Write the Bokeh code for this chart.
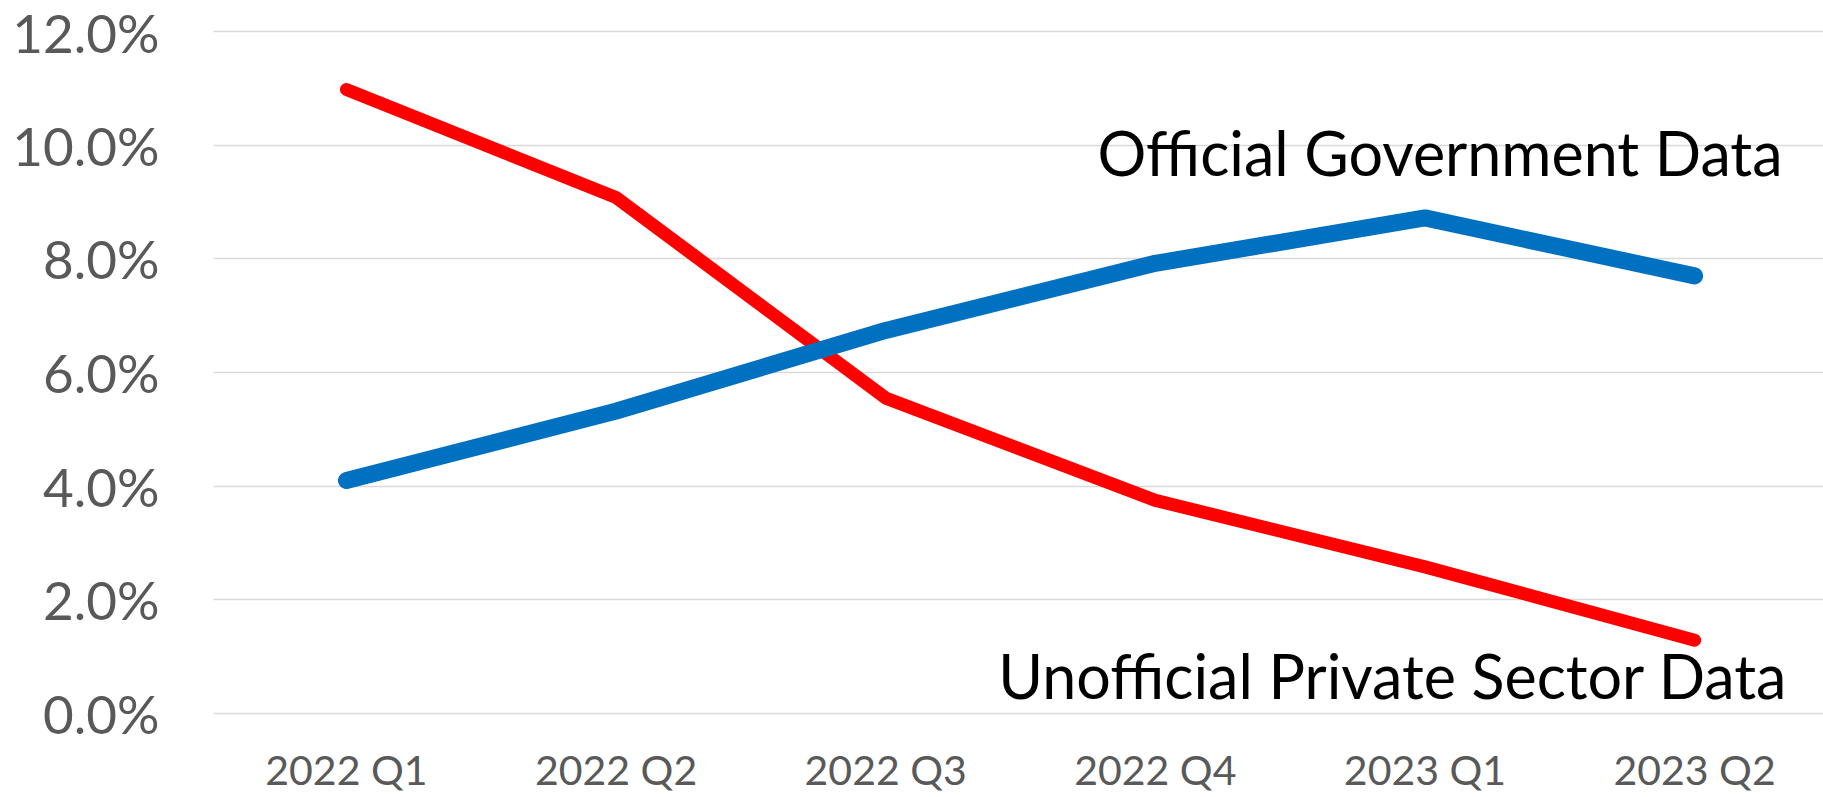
from bokeh.plotting import figure
from bokeh.models import Range1d, FixedTicker, Label
from bokeh.embed import file_html
from bokeh.resources import INLINE

categories = ["2022 Q1", "2022 Q2", "2022 Q3", "2022 Q4", "2023 Q1", "2023 Q2"]
official = [4.10, 5.32, 6.74, 7.92, 8.72, 7.70]
unofficial = [10.98, 9.08, 5.55, 3.75, 2.58, 1.29]
y_ticks = [0, 2, 4, 6, 8, 10, 12]

FONT = "Lato"
xs = list(range(len(categories)))

p = figure(width=1823, height=797, output_backend="svg", toolbar_location=None,
           x_range=Range1d(-0.493, 5.478), y_range=Range1d(-0.053, 12.545),
           min_border_left=213, min_border_right=0, min_border_top=0,
           min_border_bottom=81)
p.outline_line_color = None
p.background_fill_color = "white"
p.border_fill_color = "white"

p.xgrid.grid_line_color = None
p.ygrid.grid_line_color = "#D9D9D9"
p.ygrid.grid_line_width = 1.6

p.yaxis.ticker = FixedTicker(ticks=y_ticks)
p.yaxis.major_label_overrides = {t: f"{t:.1f}%" for t in y_ticks}
p.xaxis.ticker = FixedTicker(ticks=xs)
p.xaxis.major_label_overrides = {i: c for i, c in enumerate(categories)}

for ax in (p.xaxis[0], p.yaxis[0]):
    ax.axis_line_color = None
    ax.major_tick_line_color = None
    ax.minor_tick_line_color = None
    ax.major_tick_out = 0
    ax.major_tick_in = 0
    ax.major_label_text_font = FONT
    ax.major_label_text_color = "#595959"

p.yaxis.major_label_text_font_size = "53px"
p.yaxis.major_label_standoff = 54
p.xaxis.major_label_text_font_size = "41px"
p.xaxis.major_label_text_line_height = 0.8
p.xaxis.major_label_standoff = 28

p.line(xs, unofficial, line_color="#FF0000", line_width=13,
       line_cap="round", line_join="round")
p.line(xs, official, line_color="#0070C0", line_width=17,
       line_cap="round", line_join="round")

p.add_layout(Label(x=5.326, y=9.865, text="Official Government Data",
                   text_font=FONT, text_font_size="61px", text_color="black",
                   text_align="right", text_baseline="alphabetic"))
p.add_layout(Label(x=5.345, y=0.66, text="Unofficial Private Sector Data",
                   text_font=FONT, text_font_size="61px", text_color="black",
                   text_align="right", text_baseline="alphabetic"))

open("out.html", "w").write(file_html(p, INLINE))
